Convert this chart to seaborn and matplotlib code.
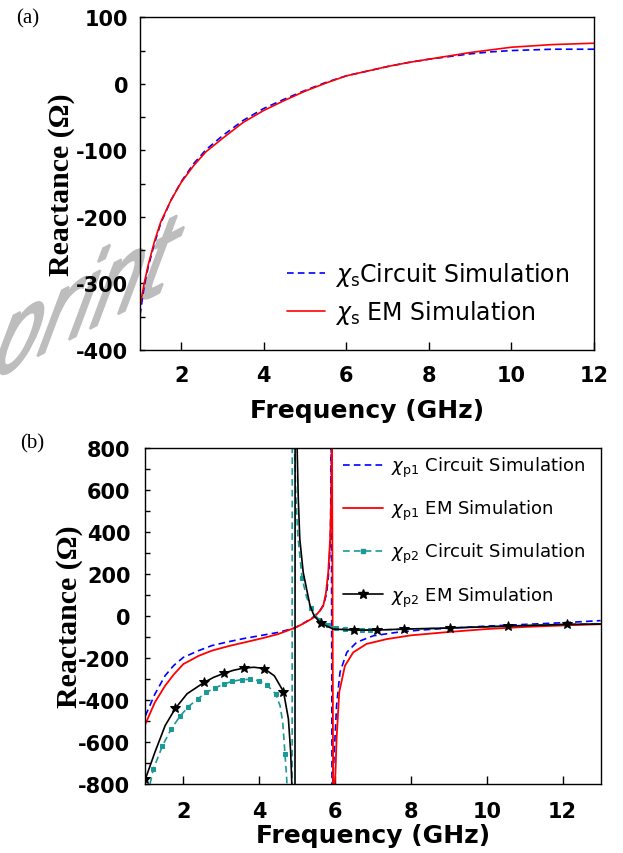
import matplotlib
matplotlib.use('Agg')
import matplotlib.pyplot as plt
import seaborn as sns
from matplotlib.lines import Line2D
from matplotlib.ticker import MultipleLocator
from matplotlib.textpath import TextPath
from matplotlib.patches import PathPatch
from matplotlib.transforms import Affine2D
from matplotlib.font_manager import FontProperties

RED = '#ff0000'
BLUE = '#0000ff'
TEAL = '#1a9a96'
BLACK = '#000000'
DASH = (0, (4, 2.5))

# ── (a) series reactance χs ─────────────────────────────────────────────────
freq_a = [1.0, 1.1, 1.2, 1.35, 1.5, 1.75, 2.0, 2.3, 2.6, 3.0, 3.5, 4.0, 4.5, 5.0,
          5.5, 6.0, 6.5, 7.0, 7.5, 8.0, 8.5, 9.0, 9.5, 10.0, 10.5, 11.0, 11.5, 12.0]
xs_em = [-335, -300, -272, -237, -208, -175, -148, -123, -102, -82, -58, -40, -25, -11,
         1, 12, 19, 26, 32, 37, 42, 47, 51, 55, 57, 59, 60, 61]
xs_circuit = [-348, -305, -275, -240, -210, -175, -147, -120, -99, -78, -55, -37, -23, -10,
              2, 12, 19, 26, 32, 37, 41, 45, 48, 50, 51, 52, 52, 52]
labels_a = [r'$\chi_{\mathrm{s}}$Circuit Simulation', r'$\chi_{\mathrm{s}}$ EM Simulation']

# ── (b) shunt reactances χp1 / χp2 ───────────────────────────────────────────
freq_p1_circ = [1.0, 1.25, 1.52, 1.75, 2.0, 2.4, 2.75, 3.2, 3.63, 4.1, 4.5, 4.9, 5.1, 5.3,
                5.45, 5.6, 5.7, 5.78, 5.84, 5.88, 5.9, 5.92, 5.98, 6.04, 6.13, 6.31, 6.57,
                7.01, 7.62, 8.24, 9.0, 10.0, 11.0, 12.0, 13.0]
xp1_circuit = [-475, -372, -284, -235, -197, -165, -141, -122, -106, -91, -78, -59, -42, -20,
               -2, 25, 55, 110, 220, 400, 850, -850, -650, -427, -268, -173, -125,
               -94, -78, -67, -58, -48, -40, -32, -22]

freq_p1_em = [1.0, 1.25, 1.52, 1.75, 2.0, 2.4, 2.75, 3.2, 3.63, 4.1, 4.5, 4.9, 5.1, 5.3,
              5.45, 5.6, 5.69, 5.76, 5.82, 5.87, 5.9, 5.92, 5.95, 6.01, 6.04, 6.11, 6.26,
              6.48, 6.83, 7.36, 8.0, 9.0, 10.0, 11.0, 12.0, 13.0]
xp1_em = [-514, -411, -332, -278, -229, -190, -165, -143, -125, -105, -86, -59, -42, -22,
          -6, 25, 49, 110, 208, 367, 560, 900, -900, -750, -586, -363, -237,
          -173, -133, -110, -92, -76, -62, -52, -45, -39]

freq_p2_circ = [1.0, 1.21, 1.45, 1.68, 1.91, 2.13, 2.38, 2.61, 2.83, 3.07, 3.29, 3.54, 3.76,
                3.99, 4.21, 4.43, 4.55, 4.62, 4.68, 4.72, 4.76, 4.82, 4.865, 4.875, 4.9,
                4.93, 4.97, 5.02, 5.13, 5.25, 5.36, 5.47, 5.58, 5.81, 6.03, 6.26, 6.48,
                6.71, 6.93, 7.4, 7.9, 8.5, 9.0, 9.5, 10.0, 10.5, 11.0, 11.5, 12.0, 12.5, 13.0]
xp2_circuit = [-900, -729, -618, -538, -478, -432, -395, -363, -343, -324, -311, -303, -302,
               -308, -329, -371, -427, -506, -657, -760, -900, -1500, -3000, 3000, 1200,
               800, 560, 380, 180, 90, 40, 5, -18, -45, -57, -62, -65,
               -66, -66, -65, -63, -60, -57, -54, -51, -48, -45, -42, -40, -38, -36]
p2_circ_marks = list(range(16)) + [18, 28, 30, 32, 33, 34, 35, 36, 37, 38]

freq_p2_em = [1.0, 1.25, 1.52, 1.79, 2.1, 2.55, 2.8, 3.07, 3.33, 3.59, 3.86, 4.13, 4.4, 4.64,
              4.77, 4.83, 4.86, 4.88, 4.94, 4.95, 4.985, 5.0, 5.03, 5.07, 5.16, 5.34, 5.45,
              5.63, 5.95, 6.5, 7.1, 7.82, 9.03, 10.57, 12.12, 13.0]
xp2_em = [-776, -649, -522, -440, -370, -316, -292, -273, -258, -248, -244, -250, -285, -360,
          -490, -649, -800, -1100, -3000, 3000, 1000, 800, 560, 367, 208, 49, 0,
          -35, -62, -67, -67, -62, -57, -48, -40, -38]
p2_em_marks = [0, 3, 5, 7, 9, 11, 13, 27, 29, 30, 31, 32, 33, 34]

labels_b = [r'$\chi_{\mathrm{p1}}$ Circuit Simulation', r'$\chi_{\mathrm{p1}}$ EM Simulation',
            r'$\chi_{\mathrm{p2}}$ Circuit Simulation', r'$\chi_{\mathrm{p2}}$ EM Simulation']

xticks = [2, 4, 6, 8, 10, 12]
yticks_a = [-400, -300, -200, -100, 0, 100]
yticks_b = [-800, -600, -400, -200, 0, 200, 400, 600, 800]

sns.set_theme(style='ticks')
plt.rcParams['font.family'] = ['DejaVu Sans']
plt.rcParams['mathtext.fontset'] = 'dejavusans'
plt.rcParams['text.color'] = BLACK
plt.rcParams['axes.labelcolor'] = BLACK

fig = plt.figure(figsize=(6.23, 8.54), dpi=100)
fig.patch.set_facecolor('white')
ax1 = fig.add_axes([0.2247, 0.589, 0.7287, 0.3896])
ax2 = fig.add_axes([0.2334, 0.0808, 0.7306, 0.3934])

# watermark behind the plots (pixel coordinates)
wm = TextPath((0, 0), 'print', size=86, prop=FontProperties(family='DejaVu Sans'))
wm_tr = Affine2D().skew_deg(48, 0).rotate_deg(27.5).translate(-18, 468)
fig.add_artist(PathPatch(wm, transform=wm_tr, facecolor='#bdbdbd', edgecolor='#bdbdbd',
                         lw=1.5, zorder=-1))

# (a)
sns.lineplot(x=freq_a, y=xs_circuit, ax=ax1, color=BLUE, lw=1.2, linestyle=DASH,
             sort=False, estimator=None)
sns.lineplot(x=freq_a, y=xs_em, ax=ax1, color=RED, lw=1.2, sort=False, estimator=None)
ax1.set_xlim(1, 12)
ax1.set_ylim(-400, 100)

# (b)
sns.lineplot(x=freq_p1_circ, y=xp1_circuit, ax=ax2, color=BLUE, lw=1.2, linestyle=DASH,
             sort=False, estimator=None)
sns.lineplot(x=freq_p1_em, y=xp1_em, ax=ax2, color=RED, lw=1.3, sort=False, estimator=None)
sns.lineplot(x=freq_p2_circ, y=xp2_circuit, ax=ax2, color=TEAL, lw=1.2, linestyle=DASH,
             marker='s', markersize=2.6, markeredgecolor=TEAL, markevery=p2_circ_marks,
             sort=False, estimator=None)
sns.lineplot(x=freq_p2_em, y=xp2_em, ax=ax2, color=BLACK, lw=1.2, marker='*',
             markersize=7.5, markeredgecolor=BLACK, markevery=p2_em_marks,
             sort=False, estimator=None)
ax2.set_xlim(1, 13)
ax2.set_ylim(-800, 800)

setup = [(ax1, yticks_a, 50, 8.6, 10.5, 10, -0.143),
         (ax2, yticks_b, 100, 10.8, 12.5, 1.5, -0.137)]
for ax, yt, minor, ypad, xpad, lpad, ylx in setup:
    ax.set_facecolor('none')
    ax.set_xticks(xticks)
    ax.set_xticklabels([str(v) for v in xticks], fontsize=15, fontweight='bold')
    ax.set_yticks(yt)
    ax.set_yticklabels([str(v) for v in yt], fontsize=15, fontweight='bold')
    ax.yaxis.set_minor_locator(MultipleLocator(minor))
    ax.tick_params(axis='x', which='major', direction='in', length=6, width=1, pad=xpad,
                   colors=BLACK)
    ax.tick_params(axis='y', which='both', direction='in', length=3.6, width=1, pad=ypad,
                   colors=BLACK)
    for s in ax.spines.values():
        s.set_visible(True)
        s.set_linewidth(1.0)
        s.set_color(BLACK)
    ax.set_xlabel('Frequency (GHz)', fontsize=18, fontweight='bold', labelpad=lpad,
                  color=BLACK)
    ax.set_ylabel('Reactance (Ω)', family='Liberation Serif', fontsize=21.5,
                  fontweight='bold', color=BLACK)
    ax.yaxis.set_label_coords(ylx, 0.5)

handles_a = [Line2D([], [], color=BLUE, lw=1.2, ls=DASH), Line2D([], [], color=RED, lw=1.2)]
ax1.legend(handles_a, labels_a, loc='center left', bbox_to_anchor=(0.324, 0.171),
           frameon=False, fontsize=17, handlelength=1.6, handletextpad=0.42,
           labelspacing=0.45, borderpad=0, borderaxespad=0, labelcolor=BLACK)

handles_b = [Line2D([], [], color=BLUE, lw=1.2, ls=DASH),
             Line2D([], [], color=RED, lw=1.3),
             Line2D([], [], color=TEAL, lw=1.2, ls=DASH, marker='s', markersize=2.6),
             Line2D([], [], color=BLACK, lw=1.2, marker='*', markersize=7.5)]
ax2.legend(handles_b, labels_b, loc='center left', bbox_to_anchor=(0.434, 0.751),
           frameon=False, fontsize=13, handlelength=2.2, handletextpad=0.45,
           labelspacing=1.05, borderpad=0, borderaxespad=0, numpoints=1, labelcolor=BLACK)

fig.text(0.026, 0.978, '(a)', family='Liberation Serif', fontsize=15, va='center')
fig.text(0.032, 0.48, '(b)', family='Liberation Serif', fontsize=15, va='center')

fig.savefig('out.png', dpi=100)
